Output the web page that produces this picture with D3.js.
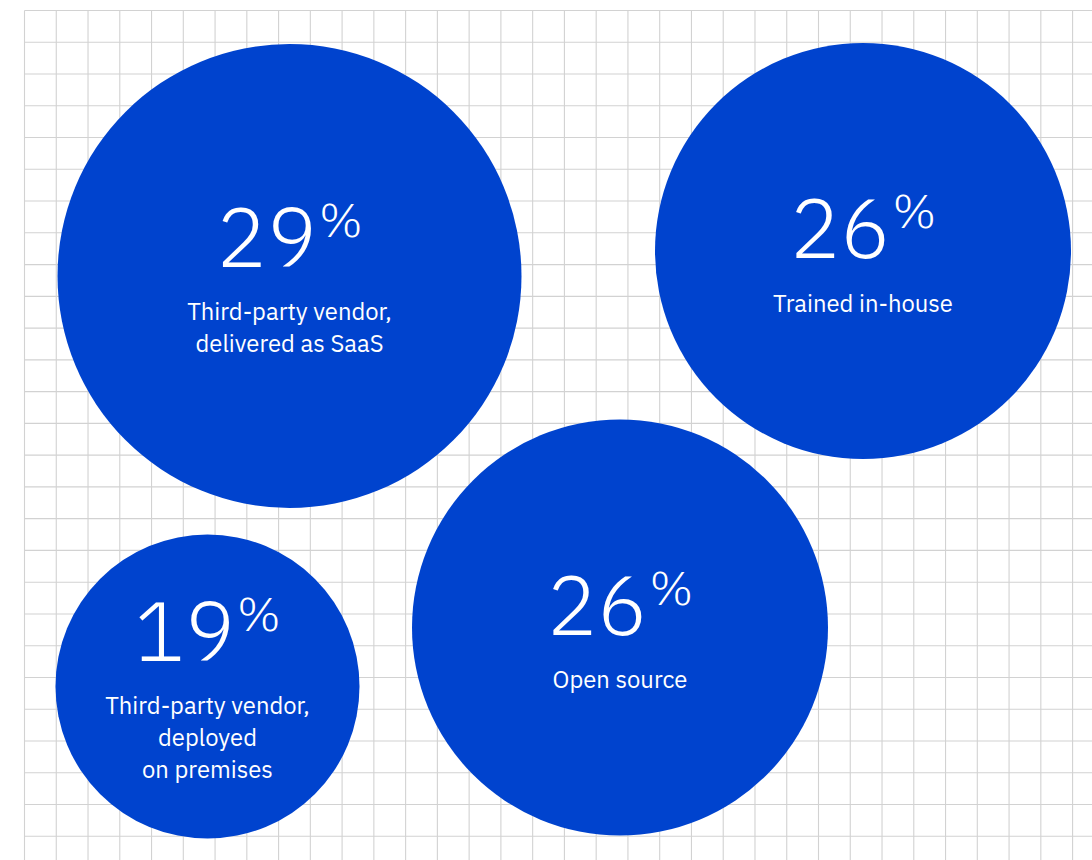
<!DOCTYPE html>
<html>
<head>
<meta charset="utf-8">
<script src="https://cdn.jsdelivr.net/npm/d3@7"></script>
<style>
  html, body { margin: 0; padding: 0; background: #ffffff; }
  svg { display: block; }
</style>
</head>
<body>
<div id="chart"></div>
<script>
// Share of respondents by source of their AI models
const values = [29, 26, 26, 19];
const categories = [
  "Third-party vendor, delivered as SaaS",
  "Trained in-house",
  "Open source",
  "Third-party vendor, deployed on premises"
];
const labelLines = [
  ["Third-party vendor,", "delivered as SaaS"],
  ["Trained in-house"],
  ["Open source"],
  ["Third-party vendor,", "deployed", "on premises"]
];

// Bubble placement on the page (centres in px)
const centres = [
  [289.5, 276],
  [863, 251],
  [620, 627.5],
  [207.5, 686.5]
];

const W = 1092, H = 860;
const gridStep = 31.76;
const gridX0 = 24.5, gridY0 = 10.5;
const blue = "#0043ce";

const svg = d3.select("#chart").append("svg")
  .attr("width", W).attr("height", H);

// Background grid
const grid = svg.append("g").attr("class", "grid")
  .attr("stroke", "#d2d2d2").attr("stroke-width", 1.1);
const xs = d3.range(gridX0, W + 1, gridStep);
const ys = d3.range(gridY0, H + 1, gridStep);
grid.selectAll("line.v").data(xs).join("line").attr("class", "v")
  .attr("x1", d => d).attr("x2", d => d).attr("y1", gridY0).attr("y2", H);
grid.selectAll("line.h").data(ys).join("line").attr("class", "h")
  .attr("y1", d => d).attr("y2", d => d).attr("x1", gridX0).attr("x2", W);

// Radius grows linearly with the percentage
const r = d3.scaleLinear().domain([0, d3.max(values)]).range([0, 232]);

const data = values.map((v, i) => ({
  value: v, category: categories[i], lines: labelLines[i],
  cx: centres[i][0], cy: centres[i][1]
}));

const bubble = svg.append("g").selectAll("g.bubble").data(data).join("g")
  .attr("class", "bubble")
  .attr("transform", d => `translate(${d.cx},${d.cy})`);

bubble.append("circle")
  .attr("r", d => r(d.value))
  .attr("fill", blue);

const numFont = "'IBM Plex Sans', 'Open Sans', sans-serif";
const labelFont = "'IBM Plex Sans', 'Open Sans', sans-serif";

// Big percentage figure with raised percent sign
bubble.append("text")
  .attr("text-anchor", "middle")
  .attr("fill", "#ffffff")
  .attr("font-family", numFont)
  .attr("font-weight", 300)
  .attr("y", d => 7 - 16.5 * (d.lines.length - 1))
  .each(function(d) {
    const t = d3.select(this);
    t.append("tspan").attr("font-size", 84).text(d.value);
    t.append("tspan").attr("font-size", 48).attr("dx", 2).attr("dy", -30).text("%");
  });

// Category label lines
bubble.append("text")
  .attr("text-anchor", "middle")
  .attr("fill", "#ffffff")
  .attr("font-family", labelFont)
  .attr("font-size", 23.8)
  .attr("y", d => 7 - 16.5 * (d.lines.length - 1) + 53.5)
  .selectAll("tspan").data(d => d.lines).join("tspan")
  .attr("x", 0)
  .attr("dy", (d, i) => i === 0 ? 0 : 32)
  .text(d => d);
</script>
</body>
</html>
